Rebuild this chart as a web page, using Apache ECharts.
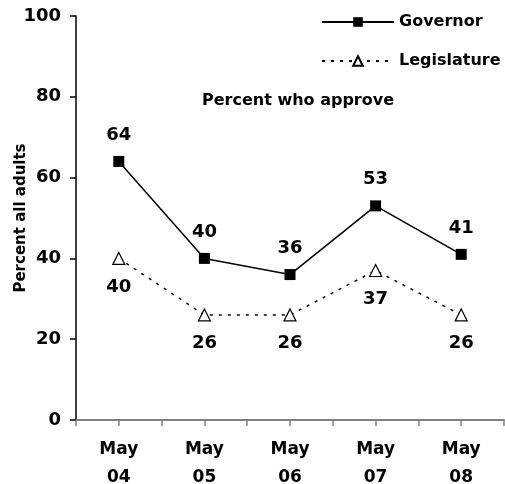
<!DOCTYPE html>
<html>
<head>
<meta charset="utf-8">
<script src="https://cdn.jsdelivr.net/npm/echarts@6/dist/echarts.min.js"></script>
<style>
  html, body { margin: 0; padding: 0; background: #fff; }
  #chart { width: 505px; height: 484px; }
</style>
</head>
<body>
<div id="chart"></div>
<script>
// Survey waves and approval shares (percent of all adults)
const categories = ['May\n04', 'May\n05', 'May\n06', 'May\n07', 'May\n08'];
const governor = [64, 40, 36, 53, 41];
const legislature = [40, 26, 26, 37, 26];
const yTicks = [0, 20, 40, 60, 80, 100];

const FONT = '"DejaVu Sans", Verdana, sans-serif';

// Each survey sits at the centre of its band on a 0..10 value axis,
// so the axis shows ticks both at band centres and band edges.
const xPos = i => 2 * i + 1;
const pairs = arr => arr.map((v, i) => [xPos(i), v]);

const chart = echarts.init(document.getElementById('chart'));
chart.setOption({
  animation: false,
  backgroundColor: '#fff',
  textStyle: { fontFamily: FONT },
  grid: {
    left: 76, right: 1, top: 16, bottom: 64,
    containLabel: false,
    outerBoundsMode: 'none'
  },
  legend: {
    orient: 'vertical',
    left: 316,
    top: 9,
    itemWidth: 72,
    itemHeight: 12,
    itemGap: 23,
    textStyle: { fontFamily: FONT, fontWeight: 'bold', fontSize: 16, color: '#000' },
    data: ['Governor', 'Legislature']
  },
  graphic: [{
    type: 'text',
    left: 202,
    top: 93,
    style: {
      text: 'Percent who approve',
      font: 'bold 16px ' + FONT,
      fill: '#000'
    }
  }],
  xAxis: {
    type: 'value',
    min: 0,
    max: 10,
    interval: 1,
    splitLine: { show: false },
    axisLine: { lineStyle: { color: '#808080', width: 2 } },
    axisTick: { length: 6, lineStyle: { color: '#808080', width: 1.5 } },
    axisLabel: {
      margin: 16,
      fontFamily: FONT,
      fontWeight: 'bold',
      fontSize: 17,
      lineHeight: 28,
      color: '#000',
      showMinLabel: true,
      showMaxLabel: true,
      formatter: v => (v % 2 === 1 ? categories[(v - 1) / 2] : '')
    }
  },
  yAxis: {
    type: 'value',
    min: yTicks[0],
    max: yTicks[yTicks.length - 1],
    interval: 20,
    name: 'Percent all adults',
    nameLocation: 'middle',
    nameGap: 47,
    nameMoveOverlap: false,
    nameTextStyle: { fontFamily: FONT, fontWeight: 'bold', fontSize: 15, color: '#000' },
    splitLine: { show: false },
    axisLine: { show: true, lineStyle: { color: '#000', width: 1.5 } },
    axisTick: { show: true, length: 6, lineStyle: { color: '#000', width: 1.5 } },
    axisLabel: {
      margin: 15,
      fontFamily: FONT,
      fontWeight: 'bold',
      fontSize: 18,
      color: '#000'
    }
  },
  series: [
    {
      name: 'Governor',
      type: 'line',
      data: pairs(governor),
      symbol: 'rect',
      symbolSize: 11,
      itemStyle: { color: '#000' },
      lineStyle: { color: '#000', width: 1.5 },
      label: {
        show: true,
        position: 'top',
        distance: 12,
        fontFamily: FONT,
        fontWeight: 'bold',
        fontSize: 18,
        color: '#000',
        formatter: p => p.value[1]
      }
    },
    {
      name: 'Legislature',
      type: 'line',
      data: pairs(legislature),
      symbol: 'triangle',
      symbolSize: 12,
      itemStyle: { color: '#fff', borderColor: '#000', borderWidth: 1.2 },
      lineStyle: { color: '#000', width: 1.5, type: [3, 6] },
      label: {
        show: true,
        position: 'bottom',
        distance: 13,
        fontFamily: FONT,
        fontWeight: 'bold',
        fontSize: 18,
        color: '#000',
        formatter: p => p.value[1]
      }
    }
  ]
});
</script>
</body>
</html>
